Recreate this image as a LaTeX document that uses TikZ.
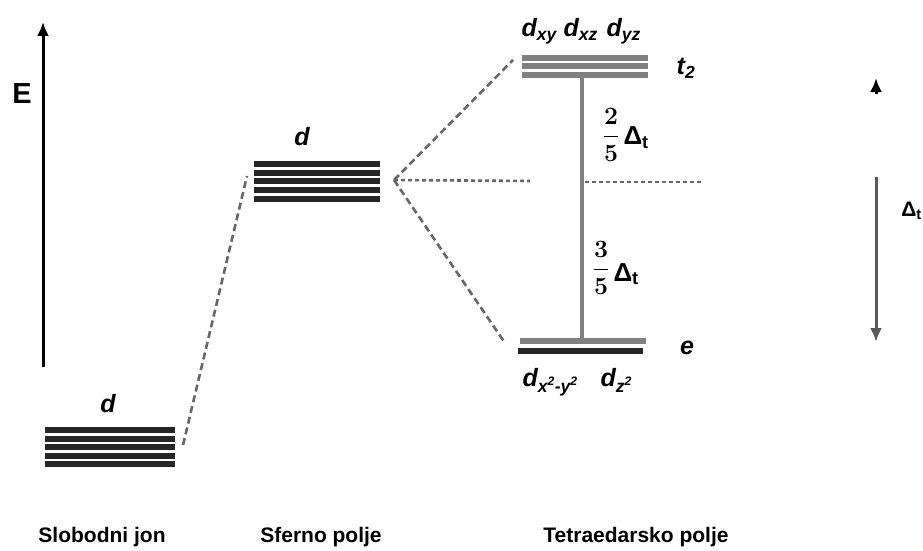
\documentclass[tikz,border=0pt]{standalone}
\usepackage{amsmath,amssymb}
\usepackage{fontspec}
\setmainfont{Liberation Sans}
\usetikzlibrary{arrows.meta}
\tikzset{
  lvl/.style={line width=6pt,black!85},
  glvl/.style={line width=6pt,black!50},
  conn/.style={line width=2.6pt,black!60,dash pattern=on 7pt off 4pt},
  dots/.style={line width=2.6pt,black!60,dash pattern=on 4pt off 3pt},
  dlab/.style={font=\fontsize{25}{28}\selectfont\bfseries\itshape},
  blab/.style={font=\fontsize{21}{24}\selectfont\bfseries},
  glab/.style={font=\fontsize{26}{28}\selectfont\bfseries},
  flab/.style={font=\fontsize{28}{32}\selectfont\bfseries\boldmath},
  tip/.style={-{Latex[length=14pt,width=12pt]}}
}
\begin{document}
\begin{tikzpicture}[x=1pt,y=-1pt]
 \useasboundingbox (0,0) rectangle (923,551);
 % energy axis
 \draw[tip,line width=3pt] (43,367) -- (43,22);
 \node[font=\fontsize{29}{32}\selectfont\bfseries] (E) at (22,94) {E};

 % free ion
 \foreach \y in {429.5,439,447,455.5,464} {
   \draw[lvl] (45,\y)--(175,\y);
 }
 \node[dlab] (dfree) at (108,404) {d};
 \coordinate (fi) at (183,445);

 % spherical field
 \foreach \y in {164,173,181,189.5,198.5} {
   \draw[lvl] (254,\y)--(380,\y);
 }
 \node[dlab] (dsph) at (302,137) {d};
 \coordinate (sl) at (247,176);
 \coordinate (sr) at (394,180);

 % tetrahedral field
 \foreach \y in {58,66,75} {
   \draw[glvl] (522,\y)--(648,\y);
 }
 \draw[glvl] (520,341)--(646,341);
 \draw[lvl] (518,350.5)--(643,350.5);
 \coordinate (tl) at (513,60);
 \coordinate (el) at (505,343);
 \coordinate (bc) at (530,181);
 \coordinate (tb) at (582,78);
 \coordinate (eb) at (582,338);
 \coordinate (bl) at (585,182);
 \coordinate (br) at (702,182);

 \draw[conn] (fi)--(sl);
 \draw[conn] (sr)--(tl);
 \draw[conn] (sr)--(el);
 \draw[dots] (sr)--(bc);
 \draw[dots] (bl)--(br);
 \draw[line width=4.5pt,black!50] (tb)--(eb);

 \node[dlab,anchor=base west] (dxy) at (518,37) {d\textsubscript{xy}};
 \node[dlab,anchor=base west] (dxz) at (560,37) {d\textsubscript{xz}};
 \node[dlab,anchor=base west] (dyz) at (603,37) {d\textsubscript{yz}};
 \node[dlab,anchor=base west] (dx2) at (519,386) {d\textsubscript{x\textsuperscript{2}-y\textsuperscript{2}}};
 \node[dlab,anchor=base west] (dz2) at (597,386) {d\textsubscript{z\textsuperscript{2}}};
 \node[dlab] (t2) at (686,68) {t\textsubscript{2}};
 \node[dlab] (e) at (687,348) {e};

 \node[flab] (f25) at (611,135) {$\dfrac{2}{5}$};
 \node[glab,anchor=west] (d25) at (620,138) {Δ\textsubscript{t}};
 \node[flab] (f35) at (601,268) {$\dfrac{3}{5}$};
 \node[glab,anchor=west] (d35) at (610,274) {Δ\textsubscript{t}};

 % splitting arrow
 \draw[tip,line width=3pt] (876,94)--(876,78);
 \draw[tip,line width=3pt,black!65] (876,177)--(876,342);
 \node[blab,anchor=east,inner sep=1pt] (dt) at (923,211) {Δ\textsubscript{t}};

 \node[blab] (free) at (102,537) {Slobodni jon};
 \node[blab] (sph) at (321,537) {Sferno polje};
 \node[blab] (tet) at (636,537) {Tetraedarsko polje};
\end{tikzpicture}
\end{document}
